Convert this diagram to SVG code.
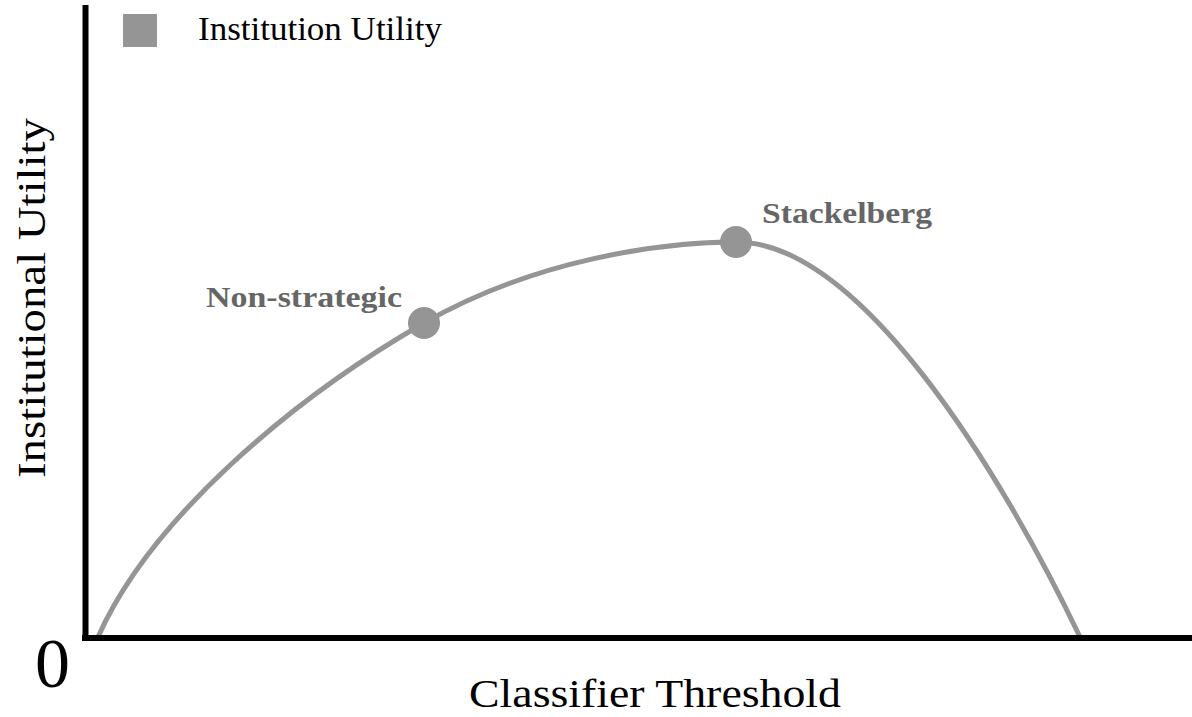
<svg xmlns="http://www.w3.org/2000/svg" width="1192" height="717" viewBox="0 0 1192 717">
  <style>
    .axis { stroke: #000; stroke-width: 6; fill: none; }
    .curve { stroke: #959595; stroke-width: 5; fill: none; }
    .dot { fill: #959595; }
    .serif { font-family: "Liberation Serif", "Times New Roman", serif; fill: #000; }
    .pt-label { font-family: "Liberation Serif", "Times New Roman", serif; font-weight: bold; font-size: 29px; fill: #666; }
  </style>
  <rect width="1192" height="717" fill="#fff"/>

  <!-- utility curve -->
  <g id="connectors">
    <path class="curve" d="M98,637 C150,520 290,400 424,323 C534,260 660,242 736,242 C860,242 1000,470 1080,637"/>
  </g>

  <!-- axes -->
  <g id="axes">
    <line class="axis" x1="85.5" y1="5" x2="85.5" y2="640"/>
    <line class="axis" x1="82" y1="638" x2="1192" y2="638"/>
  </g>

  <!-- legend -->
  <g id="legend">
    <rect x="123" y="14" width="34" height="33" fill="#959595"/>
    <text class="serif" x="198" y="40" font-size="33" textLength="244" lengthAdjust="spacingAndGlyphs">Institution Utility</text>
  </g>

  <!-- marked points -->
  <g id="non-strategic">
    <circle class="dot" cx="424" cy="323" r="16"/>
    <text class="pt-label" x="206" y="307" textLength="196" lengthAdjust="spacingAndGlyphs">Non-strategic</text>
  </g>
  <g id="stackelberg">
    <circle class="dot" cx="736" cy="242" r="16"/>
    <text class="pt-label" x="762" y="223" textLength="170" lengthAdjust="spacingAndGlyphs">Stackelberg</text>
  </g>

  <!-- axis labels -->
  <g id="labels">
    <text class="serif" x="35" y="687" font-size="70">0</text>
    <text class="serif" x="469" y="707" font-size="40" textLength="372" lengthAdjust="spacingAndGlyphs">Classifier Threshold</text>
    <text class="serif" transform="translate(45,478) rotate(-90)" x="0" y="0" font-size="41" textLength="360" lengthAdjust="spacingAndGlyphs">Institutional Utility</text>
  </g>
</svg>
